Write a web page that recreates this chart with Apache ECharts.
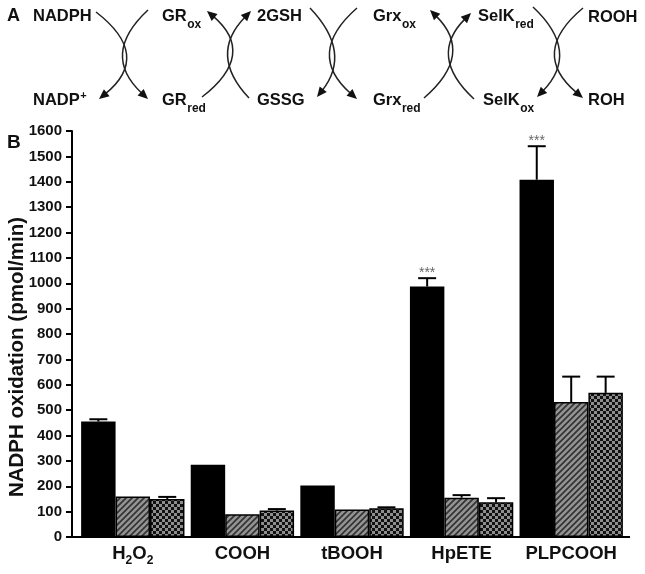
<!DOCTYPE html>
<html>
<head>
<meta charset="utf-8">
<script src="https://cdn.jsdelivr.net/npm/echarts@6/dist/echarts.min.js"></script>
<style>
  html, body { margin: 0; padding: 0; background: #fff; }
  #chart { width: 645px; height: 574px; }
</style>
</head>
<body>
<div id="chart"></div>
<script>
// --- data ---
const categories = ['H2O2', 'COOH', 'tBOOH', 'HpETE', 'PLPCOOH'];
const solidValues = [455, 285, 203, 987, 1408];
const solidErrors = [9, 0, 0, 33, 132];
const hatchValues = [160, 90, 108, 155, 532];
const hatchErrors = [0, 0, 0, 10, 100];
const checkValues = [150, 104, 113, 137, 568];
const checkErrors = [8, 6, 4, 16, 64];
const solidMarks = ['', '', '', '***', '***'];
const yTicks = { min: 0, max: 1600, interval: 100 };

const FONT = '"Liberation Sans", Arial, Helvetica, sans-serif';
const catGap = 0.057;

// fill patterns for the two shaded bar sets
function makeHatch() {
  const c = document.createElement('canvas');
  c.width = 6; c.height = 6;
  const ctx = c.getContext('2d');
  ctx.fillStyle = '#949494';
  ctx.fillRect(0, 0, 6, 6);
  ctx.strokeStyle = '#333';
  ctx.lineWidth = 1.7;
  ctx.beginPath();
  ctx.moveTo(0, 6); ctx.lineTo(6, 0);
  ctx.moveTo(-3, 3); ctx.lineTo(3, -3);
  ctx.moveTo(3, 9); ctx.lineTo(9, 3);
  ctx.stroke();
  return c;
}
function makeChecker() {
  const c = document.createElement('canvas');
  c.width = 6; c.height = 6;
  const ctx = c.getContext('2d');
  ctx.fillStyle = '#8e8e8e';
  ctx.fillRect(0, 0, 6, 6);
  ctx.fillStyle = '#111';
  ctx.fillRect(0, 0, 3, 3);
  ctx.fillRect(3, 3, 3, 3);
  return c;
}

// text width helper for the scheme in panel A
const measureCtx = document.createElement('canvas').getContext('2d');
function textWidth(t, size) {
  measureCtx.font = 'bold ' + size + 'px ' + FONT;
  return measureCtx.measureText(t).width;
}

// --- panel A: reaction scheme ---
const schemeLabels = [
  ['NADPH', '', '', 33, 16], ['GR', 'ox', '', 162, 16], ['2GSH', '', '', 257, 16],
  ['Grx', 'ox', '', 373, 16], ['SelK', 'red', '', 478, 16], ['ROOH', '', '', 588, 17],
  ['NADP', '', '+', 33, 100], ['GR', 'red', '', 162, 100], ['GSSG', '', '', 257, 100],
  ['Grx', 'red', '', 373, 100], ['SelK', 'ox', '', 483, 100], ['ROH', '', '', 588, 100]
];
// start x, start y, end x, end y, x at mid of the arc (arrow at end)
const schemeArcs = [
  [96, 12, 99, 99, 125], [148, 10, 148, 99, 124],
  [202, 97, 207, 11, 231], [249, 98, 251, 11, 229],
  [310, 8, 317, 97, 333], [357, 8, 357, 99, 331],
  [424, 98, 430, 10, 451], [474, 99, 471, 13, 450],
  [533, 7, 537, 97, 558], [583, 8, 583, 98, 556]
];

const graphics = [];
const mainSize = 16.5, subSize = 12;
schemeLabels.forEach(([main, sub, sup, x, y]) => {
  graphics.push({
    type: 'text', x: x, y: y,
    style: { text: main, fill: '#111', font: 'bold ' + mainSize + 'px ' + FONT, align: 'left', verticalAlign: 'middle' }
  });
  const w = textWidth(main, mainSize);
  if (sub) {
    graphics.push({
      type: 'text', x: x + w + 0.5, y: y + 8.5,
      style: { text: sub, fill: '#111', font: 'bold ' + subSize + 'px ' + FONT, align: 'left', verticalAlign: 'middle' }
    });
  }
  if (sup) {
    graphics.push({
      type: 'text', x: x + w + 0.5, y: y - 4,
      style: { text: sup, fill: '#111', font: 'bold 11px ' + FONT, align: 'left', verticalAlign: 'middle' }
    });
  }
});
schemeArcs.forEach(([x1, y1, x2, y2, bx]) => {
  const cx = 2 * bx - (x1 + x2) / 2;
  const cy = (y1 + y2) / 2;
  let dx = x2 - cx, dy = y2 - cy;
  const len = Math.sqrt(dx * dx + dy * dy);
  dx /= len; dy /= len;
  const bxp = x2 - dx * 10, byp = y2 - dy * 10;
  graphics.push({
    type: 'bezierCurve',
    shape: { x1: x1, y1: y1, x2: bxp + dx * 2, y2: byp + dy * 2, cpx1: cx, cpy1: cy },
    style: { stroke: '#222', lineWidth: 1.5, fill: null }
  });
  graphics.push({
    type: 'polygon',
    shape: { points: [[x2, y2], [bxp - dy * 4.5, byp + dx * 4.5], [bxp + dy * 4.5, byp - dx * 4.5]] },
    style: { fill: '#111' }
  });
});
graphics.push({ type: 'text', x: 7, y: 16, style: { text: 'A', fill: '#111', font: 'bold 18px ' + FONT, verticalAlign: 'middle' } });
graphics.push({ type: 'text', x: 7, y: 143, style: { text: 'B', fill: '#111', font: 'bold 19px ' + FONT, verticalAlign: 'middle' } });
// x axis line reaches the y axis and runs a little past the last group
graphics.push({ type: 'line', shape: { x1: 71, y1: 537, x2: 79, y2: 537 }, style: { stroke: '#000', lineWidth: 2 } });
graphics.push({ type: 'line', shape: { x1: 624, y1: 537, x2: 630, y2: 537 }, style: { stroke: '#000', lineWidth: 2 } });

// --- error bars (upper half only, like the figure) ---
const allMarks = [solidMarks, null, null];
function errorRender(k) {
  return function (params, api) {
    const i = api.value(0), v = api.value(1), e = api.value(2);
    const band = api.size([1, 0])[0];
    const barW = band * (1 - catGap) / 3;
    const p0 = api.coord([i, v]);
    const p1 = api.coord([i, v + e]);
    const x = p0[0] + (k - 1) * barW;
    const children = [];
    if (e > 0) {
      children.push({ type: 'line', shape: { x1: x, y1: p0[1], x2: x, y2: p1[1] }, style: { stroke: '#000', lineWidth: 2 } });
      children.push({ type: 'line', shape: { x1: x - 9, y1: p1[1], x2: x + 9, y2: p1[1] }, style: { stroke: '#000', lineWidth: 2 } });
    }
    const marks = allMarks[k];
    if (marks && marks[i]) {
      children.push({
        type: 'text', x: x, y: p1[1] - 5,
        style: { text: marks[i], fill: '#666', font: '14px ' + FONT, align: 'center', verticalAlign: 'middle' }
      });
    }
    return { type: 'group', children: children };
  };
}

const chart = echarts.init(document.getElementById('chart'), null, { renderer: 'canvas' });

const barBase = {
  type: 'bar',
  barGap: '0%',
  barCategoryGap: (catGap * 100) + '%'
};

const option = {
  animation: false,
  backgroundColor: '#fff',
  grid: { left: 78, right: 19, top: 131, bottom: 37, containLabel: false, outerBoundsMode: 'none' },
  xAxis: {
    type: 'category',
    data: categories,
    axisLine: { lineStyle: { color: '#000', width: 2 } },
    axisTick: { show: false },
    axisLabel: {
      interval: 0,
      margin: 4,
      formatter: (v) => v === 'H2O2' ? '{m|H}{s|2}{m|O}{s|2}' : '{m|' + v + '}',
      rich: {
        m: { fontSize: 18.5, fontWeight: 'bold', fontFamily: FONT, color: '#111', lineHeight: 26 },
        s: { fontSize: 12, fontWeight: 'bold', fontFamily: FONT, color: '#111', lineHeight: 12, verticalAlign: 'bottom' }
      }
    }
  },
  yAxis: {
    type: 'value',
    min: yTicks.min,
    max: yTicks.max,
    interval: yTicks.interval,
    offset: 6,
    name: 'NADPH oxidation (pmol/min)',
    nameLocation: 'middle',
    nameGap: 44,
    nameMoveOverlap: false,
    nameTextStyle: { fontSize: 20.5, fontWeight: 'bold', fontFamily: FONT, color: '#111', padding: [0, 46, 0, 0] },
    axisLine: { show: true, lineStyle: { color: '#000', width: 2 } },
    axisTick: { show: true, length: 6, lineStyle: { color: '#000', width: 2 } },
    axisLabel: {
      margin: 10, fontSize: 15, fontWeight: 'bold', fontFamily: FONT, color: '#111',
      formatter: (v) => String(v)
    },
    splitLine: { show: false }
  },
  graphic: graphics,
  series: [
    Object.assign({}, barBase, {
      name: 'Set 1', data: solidValues,
      itemStyle: { color: '#000' }
    }),
    Object.assign({}, barBase, {
      name: 'Set 2', data: hatchValues,
      itemStyle: { color: { image: makeHatch(), repeat: 'repeat' }, borderColor: '#000', borderWidth: 1.5 }
    }),
    Object.assign({}, barBase, {
      name: 'Set 3', data: checkValues,
      itemStyle: { color: { image: makeChecker(), repeat: 'repeat' }, borderColor: '#000', borderWidth: 1.5 }
    }),
    {
      type: 'custom', name: 'err1', renderItem: errorRender(0), z: 5,
      encode: { x: 0, y: 1 },
      data: solidValues.map((v, i) => [i, v, solidErrors[i]])
    },
    {
      type: 'custom', name: 'err2', renderItem: errorRender(1), z: 5,
      encode: { x: 0, y: 1 },
      data: hatchValues.map((v, i) => [i, v, hatchErrors[i]])
    },
    {
      type: 'custom', name: 'err3', renderItem: errorRender(2), z: 5,
      encode: { x: 0, y: 1 },
      data: checkValues.map((v, i) => [i, v, checkErrors[i]])
    }
  ]
};

chart.setOption(option);
</script>
</body>
</html>
